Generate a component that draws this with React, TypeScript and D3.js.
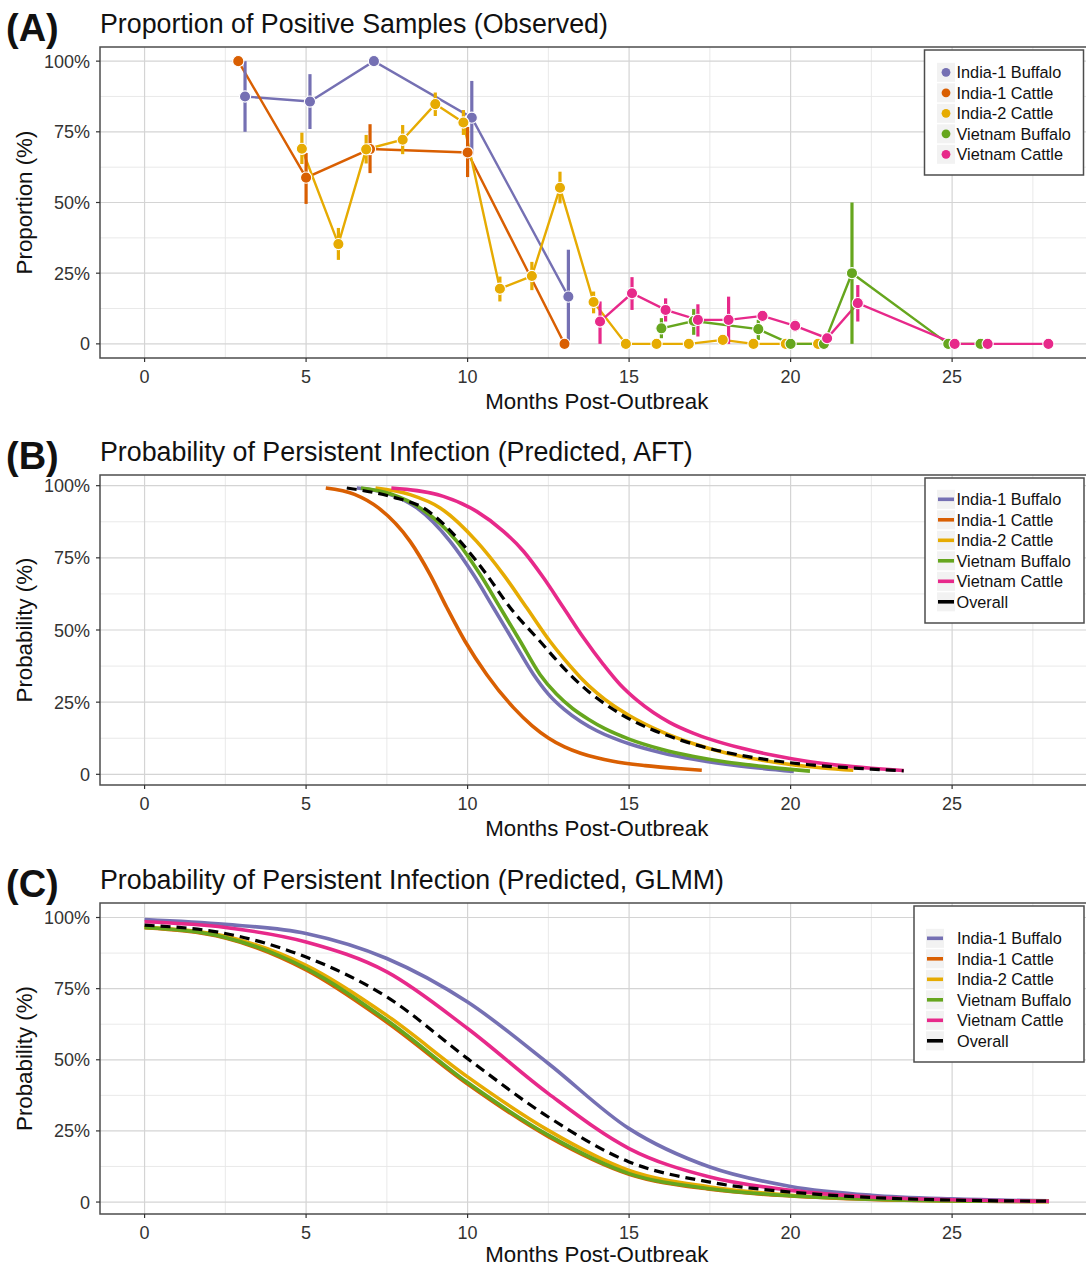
import React, { useEffect, useRef } from "react";
import * as d3 from "d3";

const groups = ["India-1 Buffalo", "India-1 Cattle", "India-2 Cattle", "Vietnam Buffalo", "Vietnam Cattle"];
const groupColors = ["#7570B3", "#D95F02", "#E6AB02", "#66A61E", "#E7298A"];
const overallLabel = "Overall";

// observed proportions: [month, percent, lower, upper]
const obsIndia1Buffalo = [[3.11, 87.5, 75, 100], [5.12, 85.7, 76, 95.4], [7.1, 100], [10.13, 80, 67, 93], [13.12, 16.7, 0, 33.3]];
const obsIndia1Cattle = [[2.9, 100], [5.0, 58.8, 49.5, 67.5], [6.98, 68.9, 60.4, 77.7], [10.0, 67.7, 59, 76.7], [13.0, 0]];
const obsIndia2Cattle = [
  [4.87, 69, 63.6, 74.7], [6.0, 35.3, 29.7, 41], [6.86, 68.8, 63.8, 73.9], [7.99, 72.2, 67.1, 77.4],
  [9.0, 84.8, 80.6, 88.9], [9.87, 78.3, 73.9, 82.7], [11.0, 19.5, 15, 23.8], [11.99, 24, 19, 29],
  [12.86, 55.2, 49.7, 60.9], [13.9, 14.8, 10.8, 18.5], [14.9, 0], [15.85, 0], [16.85, 0],
  [17.9, 1.4, 0.2, 2.6], [18.85, 0], [19.85, 0], [20.85, 0],
];
const obsVietnamBuffalo = [[16.0, 5.5, 2, 9.1], [17.0, 8.1, 3.2, 12.3], [19.0, 5.2, 1.4, 8.5], [20.0, 0], [21.03, 0], [21.9, 25, 0, 50], [24.88, 0], [25.88, 0]];
const obsVietnamCattle = [
  [14.1, 7.9, 0, 15], [15.09, 17.9, 12, 23.6], [16.13, 12, 7.9, 16.1], [17.13, 8.5, 2.6, 14],
  [18.08, 8.5, 0, 16.7], [19.13, 9.9, 7.9, 11.4], [20.14, 6.4, 4.4, 8.5], [21.13, 2, 0.5, 2.8],
  [22.08, 14.4, 7.9, 20.8], [25.08, 0], [26.1, 0], [27.98, 0],
];

// AFT predicted curves: [month, percent]
const aftIndia1Buffalo = [[6.57, 99.2], [7.5, 97.4], [8.43, 92.3], [9.46, 80.7], [10.18, 69.2], [10.8, 57.7], [11.42, 46.1], [12.04, 34.6], [12.5, 27.8], [13, 22.4], [13.5, 18.3], [14, 15.1], [14.5, 12.6], [15, 10.6], [16, 7.5], [17, 5.2], [18, 3.5], [19, 2.2], [20.1, 1.0]];
const aftIndia1Cattle = [[5.61, 99.2], [6.5, 97], [7.24, 92.3], [8.22, 80.7], [8.84, 69.2], [9.36, 57.7], [9.92, 46.1], [10.59, 34.6], [11.42, 23.1], [12, 16.8], [12.5, 12.6], [13, 9.5], [13.5, 7.3], [14, 5.7], [14.5, 4.5], [15.5, 3.0], [16.5, 2.0], [17.25, 1.4]];
const aftIndia2Cattle = [[7.15, 99.2], [8.22, 96.9], [9.15, 92.3], [10.28, 80.7], [11.11, 69.2], [11.83, 57.7], [12.55, 46.1], [13, 39.8], [13.5, 33.5], [14, 28.2], [14.5, 23.9], [15, 20.4], [16, 14.8], [17, 10.6], [18, 7.4], [19, 5.1], [20, 3.4], [21, 2.2], [21.94, 1.4]];
const aftVietnamBuffalo = [[6.7, 99.2], [7.6, 97.2], [8.53, 92.3], [9.67, 80.7], [10.39, 69.2], [11.01, 57.7], [11.63, 46.1], [12.24, 34.6], [12.75, 27.8], [13.25, 22.8], [13.75, 19.0], [14.25, 15.8], [15, 12.2], [16, 8.7], [17, 6.2], [18, 4.3], [19, 2.9], [20, 1.7], [20.6, 1.1]];
const aftVietnamCattle = [[7.64, 99.2], [9.25, 96.3], [10.28, 91.1], [11.11, 84.2], [11.73, 77.3], [12.35, 68.1], [12.97, 57.7], [13.59, 47.3], [14.2, 38.1], [14.72, 31.1], [15.25, 25.6], [15.75, 21.4], [16.25, 18.0], [17, 14.2], [17.5, 12.2], [18.5, 9.0], [19.5, 6.5], [20.5, 4.5], [21.5, 3.1], [22.5, 2.1], [23.5, 1.3]];
const aftOverall = [[6.26, 99.2], [7.7, 96], [8.63, 92.3], [9.77, 80.7], [10.59, 69.2], [11.32, 57.7], [12.24, 46.1], [12.75, 39.6], [13.25, 33.7], [13.75, 28.6], [14.25, 24.4], [14.75, 20.8], [15.5, 16.5], [16.5, 12.2], [17.5, 8.9], [18.5, 6.5], [19.5, 4.7], [20.5, 3.4], [21.5, 2.5], [22.5, 1.8], [23.5, 1.2]];

// GLMM predicted curves, sampled at these months
const glmmMonths = [0, 2.5, 5, 7.5, 10, 12.5, 15, 17.5, 20, 22.5, 25, 28];
const glmmIndia1Buffalo = [99.3, 97.6, 94.4, 85.6, 70.3, 48.7, 25.8, 12.3, 5.5, 2.4, 1.1, 0.4];
const glmmIndia1Cattle = [96.4, 92.8, 81.6, 63.2, 41.5, 23.0, 9.8, 4.5, 2.1, 0.9, 0.4, 0.2];
const glmmIndia2Cattle = [96.6, 93.4, 83.2, 65.6, 44, 25.2, 11.1, 5.3, 2.4, 1.1, 0.5, 0.2];
const glmmVietnamBuffalo = [96.5, 93.0, 82.1, 63.9, 42, 23.5, 10, 4.7, 2.2, 1.0, 0.4, 0.2];
const glmmVietnamCattle = [98.5, 96.5, 91.4, 80.9, 61, 38.1, 18.8, 8.8, 4.1, 1.8, 0.8, 0.3];
const glmmOverall = [97.3, 94.4, 86.1, 72.1, 50.4, 29.9, 14.1, 7.0, 3.5, 1.6, 0.7, 0.3];

const xTicks = [0, 5, 10, 15, 20, 25];
const yTicks = [0, 25, 50, 75, 100];
const yTickLabels = ["0", "25%", "50%", "75%", "100%"];
const xTitle = "Months Post-Outbreak";

const FONT = "'Liberation Sans', Arial, Helvetica, sans-serif";

function App() {
  const svgRef = useRef(null);

  useEffect(() => {
    const svg = d3.select(svgRef.current);
    svg.selectAll("*").remove();

    const x = d3.scaleLinear().domain([-1.38, 29.38]).range([100, 1093.6]);

    const panels = [
      { letter: "(A)", title: "Proportion of Positive Samples (Observed)", yTitle: "Proportion (%)", top: 47, bottom: 358, dom: [-5, 105], xTitleY: 409 },
      { letter: "(B)", title: "Probability of Persistent Infection (Predicted, AFT)", yTitle: "Probability (%)", top: 475, bottom: 785, dom: [-3.7, 103.7], xTitleY: 836 },
      { letter: "(C)", title: "Probability of Persistent Infection (Predicted, GLMM)", yTitle: "Probability (%)", top: 903, bottom: 1214, dom: [-4.2, 105.1], xTitleY: 1262 },
    ];

    const ys = panels.map((p) => d3.scaleLinear().domain(p.dom).range([p.bottom, p.top]));

    panels.forEach(function (p, i) {
      const y = ys[i];
      const g = svg.append("g");
      const left = x.range()[0];
      const right = x.range()[1];

      // minor grid
      g.selectAll(".xminor")
        .data(d3.range(2.5, 29.4, 5))
        .join("line")
        .attr("x1", (d) => x(d)).attr("x2", (d) => x(d))
        .attr("y1", p.top).attr("y2", p.bottom)
        .attr("stroke", "#e6e6e6").attr("stroke-width", 0.9);
      g.selectAll(".yminor")
        .data(d3.range(12.5, 100, 25))
        .join("line")
        .attr("x1", left).attr("x2", right)
        .attr("y1", (d) => y(d)).attr("y2", (d) => y(d))
        .attr("stroke", "#e6e6e6").attr("stroke-width", 0.9);
      // major grid
      g.selectAll(".xmajor")
        .data(xTicks)
        .join("line")
        .attr("x1", (d) => x(d)).attr("x2", (d) => x(d))
        .attr("y1", p.top).attr("y2", p.bottom)
        .attr("stroke", "#d4d4d4").attr("stroke-width", 1.2);
      g.selectAll(".ymajor")
        .data(yTicks)
        .join("line")
        .attr("x1", left).attr("x2", right)
        .attr("y1", (d) => y(d)).attr("y2", (d) => y(d))
        .attr("stroke", "#d4d4d4").attr("stroke-width", 1.2);

      // border
      g.append("rect")
        .attr("x", left).attr("y", p.top)
        .attr("width", right - left).attr("height", p.bottom - p.top)
        .attr("fill", "none").attr("stroke", "#4d4d4d").attr("stroke-width", 1.5);

      // ticks
      g.selectAll(".xt")
        .data(xTicks)
        .join("line")
        .attr("x1", (d) => x(d)).attr("x2", (d) => x(d))
        .attr("y1", p.bottom).attr("y2", p.bottom + 4)
        .attr("stroke", "#333").attr("stroke-width", 1.2);
      g.selectAll(".yt")
        .data(yTicks)
        .join("line")
        .attr("x1", left - 4).attr("x2", left)
        .attr("y1", (d) => y(d)).attr("y2", (d) => y(d))
        .attr("stroke", "#333").attr("stroke-width", 1.2);

      g.selectAll(".xl")
        .data(xTicks)
        .join("text")
        .attr("x", (d) => x(d)).attr("y", p.bottom + 25)
        .attr("text-anchor", "middle")
        .attr("font-size", 18).attr("fill", "#333")
        .text((d) => d);
      g.selectAll(".yl")
        .data(yTicks)
        .join("text")
        .attr("x", left - 10).attr("y", (d) => y(d) + 6.5)
        .attr("text-anchor", "end")
        .attr("font-size", 18).attr("fill", "#333")
        .text((d, j) => yTickLabels[j]);

      // titles
      g.append("text")
        .attr("x", 6).attr("y", p.top - 6)
        .attr("font-size", 38).attr("font-weight", "bold").attr("fill", "#111")
        .text(p.letter);
      g.append("text")
        .attr("x", 100).attr("y", p.top - 14)
        .attr("font-size", 26.8).attr("fill", "#111")
        .text(p.title);
      g.append("text")
        .attr("x", (left + right) / 2).attr("y", p.xTitleY)
        .attr("text-anchor", "middle")
        .attr("font-size", 22.3).attr("fill", "#111")
        .text(xTitle);
      g.append("text")
        .attr("transform", "translate(32," + (p.top + p.bottom) / 2 + ") rotate(-90)")
        .attr("text-anchor", "middle")
        .attr("font-size", 22.3).attr("fill", "#111")
        .text(p.yTitle);
    });

    // ---- panel A
    const yA = ys[0];
    const obsSeries = [obsIndia1Buffalo, obsIndia1Cattle, obsIndia2Cattle, obsVietnamBuffalo, obsVietnamCattle];
    const lineA = d3.line().x((d) => x(d[0])).y((d) => yA(d[1]));
    const gA = svg.append("g");
    obsSeries.forEach(function (s, i) {
      gA.append("path")
        .attr("d", lineA(s))
        .attr("fill", "none")
        .attr("stroke", groupColors[i])
        .attr("stroke-width", 2.4);
    });
    obsSeries.forEach(function (s, i) {
      gA.selectAll(".eb" + i)
        .data(s.filter((d) => d.length > 2))
        .join("line")
        .attr("x1", (d) => x(d[0])).attr("x2", (d) => x(d[0]))
        .attr("y1", (d) => yA(d[2])).attr("y2", (d) => yA(d[3]))
        .attr("stroke", groupColors[i])
        .attr("stroke-width", 3.2);
    });
    obsSeries.forEach(function (s, i) {
      gA.selectAll(".pt" + i)
        .data(s)
        .join("circle")
        .attr("cx", (d) => x(d[0])).attr("cy", (d) => yA(d[1]))
        .attr("r", 5.6)
        .attr("fill", groupColors[i])
        .attr("stroke", "#fff").attr("stroke-width", 1.1);
    });

    // ---- panel B
    const yB = ys[1];
    const aftSeries = [aftIndia1Buffalo, aftIndia1Cattle, aftIndia2Cattle, aftVietnamBuffalo, aftVietnamCattle];
    const lineB = d3.line().curve(d3.curveMonotoneX).x((d) => x(d[0])).y((d) => yB(d[1]));
    const gB = svg.append("g");
    aftSeries.forEach(function (s, i) {
      gB.append("path")
        .attr("d", lineB(s))
        .attr("fill", "none")
        .attr("stroke", groupColors[i])
        .attr("stroke-width", 3.6);
    });
    gB.append("path")
      .attr("d", lineB(aftOverall))
      .attr("fill", "none")
      .attr("stroke", "#000")
      .attr("stroke-width", 3.2)
      .attr("stroke-dasharray", "10,6");

    // ---- panel C
    const yC = ys[2];
    const glmmSeries = [glmmIndia1Buffalo, glmmIndia1Cattle, glmmIndia2Cattle, glmmVietnamBuffalo, glmmVietnamCattle];
    const lineC = d3.line().curve(d3.curveMonotoneX).x((d, j) => x(glmmMonths[j])).y((d) => yC(d));
    const gC = svg.append("g");
    glmmSeries.forEach(function (s, i) {
      gC.append("path")
        .attr("d", lineC(s))
        .attr("fill", "none")
        .attr("stroke", groupColors[i])
        .attr("stroke-width", 3.6);
    });
    gC.append("path")
      .attr("d", lineC(glmmOverall))
      .attr("fill", "none")
      .attr("stroke", "#000")
      .attr("stroke-width", 3.2)
      .attr("stroke-dasharray", "10,6");

    // ---- legends
    function legend(bx, by, bw, bh, rowY, keyX, textX, withOverall, dotKeys) {
      const lg = svg.append("g");
      lg.append("rect")
        .attr("x", bx).attr("y", by).attr("width", bw).attr("height", bh)
        .attr("fill", "#fff").attr("stroke", "#4d4d4d").attr("stroke-width", 1.5);
      const labels = withOverall ? groups.concat([overallLabel]) : groups;
      const colors = withOverall ? groupColors.concat(["#000"]) : groupColors;
      labels.forEach(function (lab, i) {
        const ry = rowY + i * 20.5;
        lg.append("rect")
          .attr("x", keyX).attr("y", ry - 9.5).attr("width", 18).attr("height", 19)
          .attr("fill", "#f2f2f2");
        if (dotKeys) {
          lg.append("circle")
            .attr("cx", keyX + 9).attr("cy", ry).attr("r", 4.4)
            .attr("fill", colors[i]);
        } else {
          lg.append("line")
            .attr("x1", keyX + 1).attr("x2", keyX + 17)
            .attr("y1", ry).attr("y2", ry)
            .attr("stroke", colors[i]).attr("stroke-width", 3.6);
        }
        lg.append("text")
          .attr("x", textX).attr("y", ry + 5.8)
          .attr("font-size", 16.3).attr("fill", "#111")
          .text(lab);
      });
    }
    legend(924.5, 50, 159, 125, 72.3, 937, 956.5, false, true);
    legend(925, 478, 159, 145, 499.3, 937, 956.5, true, false);
    legend(914, 906, 170, 156, 938.3, 926, 957, true, false);
  }, []);

  return (
    <svg
      ref={svgRef}
      width={1086}
      height={1267}
      fontFamily={FONT}
      style={{ position: "absolute", left: 0, top: 0, background: "#fff" }}
    />
  );
}

export default App;
